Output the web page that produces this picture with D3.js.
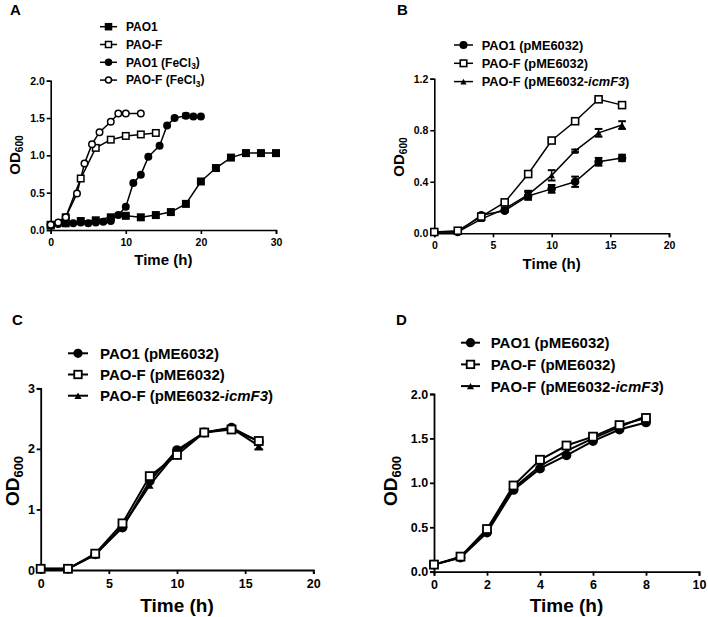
<!DOCTYPE html>
<html>
<head>
<meta charset="utf-8">
<script src="https://cdn.jsdelivr.net/npm/d3@7"></script>
<style>
  body { margin: 0; background: #fff; }
  svg { font-family: "Liberation Sans", Arial, sans-serif; font-weight: bold; }
</style>
</head>
<body>
<div id="chart"></div>
<script>
// ---- panel A ----
const aPao1T = [0, 2, 4, 6, 8, 10, 12, 14, 16, 18, 20, 22, 24, 26, 28, 30];
const aPao1V = [0.06, 0.09, 0.12, 0.13, 0.17, 0.19, 0.17, 0.20, 0.24, 0.35, 0.65, 0.83, 0.97, 1.03, 1.03, 1.03];
const aPao1E = [0.02, 0, 0, 0, 0, 0, 0, 0, 0, 0, 0, 0, 0, 0.03, 0.03, 0];
const aPaoFT = [0, 2, 4, 6, 8, 10, 12, 14];
const aPaoFV = [0.07, 0.17, 0.69, 1.10, 1.21, 1.26, 1.28, 1.30];
const aPao1FeT = [0, 1, 2, 3, 4, 5, 6, 7, 8, 9, 10, 11, 12, 13, 14.5, 15.5, 16.5, 18, 19, 20];
const aPao1FeV = [0.07, 0.08, 0.09, 0.09, 0.10, 0.09, 0.10, 0.11, 0.12, 0.20, 0.31, 0.63, 0.74, 0.98, 1.13, 1.40, 1.50, 1.53, 1.52, 1.52];
const aPao1FeE = [0, 0, 0, 0, 0, 0, 0, 0, 0, 0, 0, 0, 0, 0, 0, 0, 0, 0.03, 0, 0];
const aPaoFFeT = [0, 1, 2, 3.5, 4.5, 5.5, 6.5, 8, 9, 10, 12];
const aPaoFFeV = [0.07, 0.10, 0.17, 0.49, 0.89, 1.15, 1.31, 1.45, 1.56, 1.56, 1.56];

// ---- panel B ----
const bTime = [0, 2, 4, 6, 8, 10, 12, 14, 16];
const bPao1V = [0.01, 0.01, 0.14, 0.175, 0.29, 0.345, 0.40, 0.555, 0.585];
const bPao1E = [0, 0, 0.01, 0.01, 0.03, 0.03, 0.04, 0.03, 0.025];
const bPaoFV = [0.01, 0.02, 0.13, 0.24, 0.46, 0.72, 0.87, 1.04, 0.995];
const bPaoFE = [0, 0, 0, 0.01, 0.01, 0.01, 0.01, 0.01, 0.01];
const bIcmV = [0.01, 0.01, 0.11, 0.19, 0.30, 0.45, 0.64, 0.78, 0.84];
const bIcmE = [0, 0, 0.01, 0.01, 0.03, 0.04, 0.01, 0.03, 0.03];

// ---- panel C ----
const cTime = [0, 2, 4, 6, 8, 10, 12, 14, 16];
const cPao1V = [0.02, 0.02, 0.26, 0.70, 1.47, 1.98, 2.27, 2.35, 2.12];
const cPaoFV = [0.02, 0.02, 0.27, 0.77, 1.55, 1.90, 2.27, 2.32, 2.13];
const cIcmV = [0.02, 0.02, 0.25, 0.72, 1.40, 1.95, 2.27, 2.34, 2.05];
const cIcmE = [0, 0, 0, 0, 0, 0, 0, 0, 0.06];

// ---- panel D ----
const dTime = [0, 1, 2, 3, 4, 5, 6, 7, 8];
const dPao1V = [0.08, 0.16, 0.44, 0.92, 1.16, 1.31, 1.47, 1.60, 1.68];
const dPaoFV = [0.08, 0.17, 0.48, 0.97, 1.26, 1.42, 1.52, 1.65, 1.73];
const dIcmV = [0.08, 0.16, 0.46, 0.94, 1.19, 1.36, 1.50, 1.63, 1.75];

// axis ticks
const aXTicks = [0, 10, 20, 30], aYTicks = [0, 0.5, 1.0, 1.5, 2.0];
const bXTicks = [0, 5, 10, 15, 20], bYTicks = [0, 0.4, 0.8, 1.2];
const cXTicks = [0, 5, 10, 15, 20], cYTicks = [0, 1, 2, 3];
const dXTicks = [0, 2, 4, 6, 8, 10], dYTicks = [0, 0.5, 1.0, 1.5, 2.0];

const W = 708, H = 617;
const svg = d3.select("#chart").append("svg")
    .attr("width", W).attr("height", H);

function zip(t, v, e) {
    return t.map((x, i) => ({t: x, v: v[i], e: e ? e[i] : 0}));
}

function drawMarker(g, shape, x, y, s, sw) {
    if (shape === "sqFill" || shape === "sqOpen") {
        g.append("rect")
            .attr("x", x - s / 2).attr("y", y - s / 2)
            .attr("width", s).attr("height", s)
            .attr("fill", shape === "sqFill" ? "#000" : "#fff")
            .attr("stroke", "#000").attr("stroke-width", sw);
    } else if (shape === "ciFill" || shape === "ciOpen") {
        g.append("circle")
            .attr("cx", x).attr("cy", y).attr("r", s / 2)
            .attr("fill", shape === "ciFill" ? "#000" : "#fff")
            .attr("stroke", "#000").attr("stroke-width", sw);
    } else {
        const h = s * 0.9;
        g.append("path")
            .attr("d", `M${x},${y - h / 2}L${x + s / 2},${y + h / 2}L${x - s / 2},${y + h / 2}Z`)
            .attr("fill", "#000");
    }
}

function drawPanel(p) {
    const x = d3.scaleLinear().domain(p.xDomain).range([p.x0, p.x1]);
    const y = d3.scaleLinear().domain(p.yDomain).range([p.y0, p.y1]);
    const g = svg.append("g");

    // letter
    g.append("text")
        .attr("x", p.letter[0]).attr("y", p.letter[1])
        .style("font-size", "15px")
        .text(p.name);

    // axes
    const xAxis = d3.axisBottom(x).tickValues(p.xTicks).tickSizeOuter(0).tickSize(4)
        .tickFormat(d3.format(p.xFmt));
    const yAxis = d3.axisLeft(y).tickValues(p.yTicks).tickSizeOuter(0).tickSize(4)
        .tickFormat(d3.format(p.yFmt));

    const gx = g.append("g").attr("transform", `translate(0,${p.y0})`).call(xAxis);
    const gy = g.append("g").attr("transform", `translate(${p.x0},0)`).call(yAxis);
    [gx, gy].forEach(a => {
        a.selectAll("path, line").attr("stroke", "#000").attr("stroke-width", p.axisW);
        a.selectAll("text").attr("fill", "#000")
            .style("font-size", p.tickFont + "px")
            .style("font-family", "Liberation Sans, Arial, sans-serif")
            .style("font-weight", "bold");
    });
    gx.selectAll("text").attr("dy", "0.85em");
    gy.selectAll("text").attr("dx", "0.1em");

    // axis titles
    g.append("text")
        .attr("x", (p.x0 + x(p.xDomain[1])) / 2)
        .attr("y", p.xTitleY)
        .attr("text-anchor", "middle")
        .style("font-size", p.titleFont + "px")
        .text("Time (h)");

    const yt = g.append("text")
        .attr("transform", `translate(${p.yTitleX},${p.yTitleY}) rotate(-90)`)
        .attr("text-anchor", "middle")
        .style("font-size", p.titleFont + "px");
    yt.append("tspan").text("OD");
    yt.append("tspan").attr("dy", "0.3em").style("font-size", (p.titleFont * 0.68) + "px").text("600");

    // series
    const line = d3.line().x(d => x(d.t)).y(d => y(d.v));
    p.series.forEach(s => {
        g.append("path")
            .datum(s.data)
            .attr("d", line)
            .attr("fill", "none")
            .attr("stroke", "#000")
            .attr("stroke-width", p.lineW);
    });
    p.series.forEach(s => {
        s.data.forEach(d => {
            if (d.e > 0) {
                const cw = p.marker * 0.55;
                const ya = y(d.v + d.e), yb = y(d.v - d.e);
                g.append("line").attr("x1", x(d.t)).attr("x2", x(d.t))
                    .attr("y1", ya).attr("y2", yb).attr("stroke", "#000").attr("stroke-width", 1.5);
                [ya, yb].forEach(yy => g.append("line")
                    .attr("x1", x(d.t) - cw).attr("x2", x(d.t) + cw)
                    .attr("y1", yy).attr("y2", yy)
                    .attr("stroke", "#000").attr("stroke-width", 2));
            }
            drawMarker(g, s.shape, x(d.t), y(d.v), s.shape.startsWith("tr") ? p.marker * 0.95 : p.marker, p.markerSW);
        });
    });

    // legend
    p.series.slice().sort((a, b) => a.order - b.order).forEach((s, i) => {
        const ly = p.legend.y + i * p.legend.dy;
        const lg = g.append("g");
        lg.append("line")
            .attr("x1", p.legend.x).attr("x2", p.legend.x + p.legend.len)
            .attr("y1", ly).attr("y2", ly)
            .attr("stroke", "#000").attr("stroke-width", p.lineW);
        drawMarker(lg, s.shape, p.legend.x + p.legend.len / 2, ly,
            s.shape.startsWith("tr") ? p.legend.marker * 0.95 : p.legend.marker, p.markerSW);
        const t = lg.append("text")
            .attr("x", p.legend.tx).attr("y", ly)
            .attr("dy", "0.36em")
            .style("font-size", p.legend.font + "px");
        s.label.forEach(part => {
            const sp = t.append("tspan").text(part.text);
            if (part.italic) sp.style("font-style", "italic");
            if (part.sub) {
                sp.attr("dy", "0.3em").style("font-size", (p.legend.font * 0.7) + "px");
            }
            if (part.after) sp.attr("dy", "-0.3em");
        });
    });
}

const lbl = {
    pao1: [{text: "PAO1"}],
    paoF: [{text: "PAO-F"}],
    pao1Fe: [{text: "PAO1 (FeCl"}, {text: "3", sub: true}, {text: ")", after: true}],
    paoFFe: [{text: "PAO-F (FeCl"}, {text: "3", sub: true}, {text: ")", after: true}],
    pao1P: [{text: "PAO1 (pME6032)"}],
    paoFP: [{text: "PAO-F (pME6032)"}],
    icm: [{text: "PAO-F (pME6032-"}, {text: "icmF3", italic: true}, {text: ")"}]
};

drawPanel({
    name: "A", letter: [10, 15],
    xDomain: [0, 30], yDomain: [0, 2], x0: 50.7, x1: 276, y0: 230, y1: 80.7,
    xTicks: aXTicks, yTicks: aYTicks, xFmt: "d", yFmt: ".1f",
    tickFont: 10.5, titleFont: 15, axisW: 1.6, lineW: 1.5, marker: 6.5, markerSW: 1.5,
    xTitleY: 265, yTitleX: 20, yTitleY: 155,
    legend: {x: 100, len: 17, tx: 126, y: 26.7, dy: 17.8, font: 12, marker: 6},
    series: [
        {shape: "sqFill", data: zip(aPao1T, aPao1V, aPao1E), label: lbl.pao1, order: 0},
        {shape: "ciFill", data: zip(aPao1FeT, aPao1FeV, aPao1FeE), label: lbl.pao1Fe, order: 2},
        {shape: "sqOpen", data: zip(aPaoFT, aPaoFV), label: lbl.paoF, order: 1},
        {shape: "ciOpen", data: zip(aPaoFFeT, aPaoFFeV), label: lbl.paoFFe, order: 3}
    ]
});

drawPanel({
    name: "B", letter: [397, 15],
    xDomain: [0, 20], yDomain: [0, 1.2], x0: 434.3, x1: 669, y0: 233.3, y1: 78.7,
    xTicks: bXTicks, yTicks: bYTicks, xFmt: "d", yFmt: ".1f",
    tickFont: 10.5, titleFont: 15, axisW: 1.6, lineW: 1.5, marker: 7, markerSW: 1.6,
    xTitleY: 269, yTitleX: 404, yTitleY: 157,
    legend: {x: 454, len: 19, tx: 481.7, y: 45, dy: 18.3, font: 12.8, marker: 6.5},
    series: [
        {shape: "ciFill", data: zip(bTime, bPao1V, bPao1E), label: lbl.pao1P, order: 0},
        {shape: "trFill", data: zip(bTime, bIcmV, bIcmE), label: lbl.icm, order: 2},
        {shape: "sqOpen", data: zip(bTime, bPaoFV, bPaoFE), label: lbl.paoFP, order: 1}
    ]
});

drawPanel({
    name: "C", letter: [12, 325],
    xDomain: [0, 20], yDomain: [0, 3], x0: 40.7, x1: 313.3, y0: 570, y1: 388.3,
    xTicks: cXTicks, yTicks: cYTicks, xFmt: "d", yFmt: "d",
    tickFont: 12.5, titleFont: 19, axisW: 1.8, lineW: 2, marker: 8, markerSW: 1.8,
    xTitleY: 612, yTitleX: 19, yTitleY: 481,
    legend: {x: 68, len: 20, tx: 100, y: 353.3, dy: 21.2, font: 15, marker: 7.5},
    series: [
        {shape: "ciFill", data: zip(cTime, cPao1V), label: lbl.pao1P, order: 0},
        {shape: "trFill", data: zip(cTime, cIcmV, cIcmE), label: lbl.icm, order: 2},
        {shape: "sqOpen", data: zip(cTime, cPaoFV), label: lbl.paoFP, order: 1}
    ]
});

drawPanel({
    name: "D", letter: [396, 325],
    xDomain: [0, 10], yDomain: [0, 2], x0: 434, x1: 699, y0: 571.7, y1: 394,
    xTicks: dXTicks, yTicks: dYTicks, xFmt: "d", yFmt: ".1f",
    tickFont: 12.5, titleFont: 19, axisW: 1.8, lineW: 2, marker: 8, markerSW: 1.8,
    xTitleY: 612, yTitleX: 397, yTitleY: 481,
    legend: {x: 461, len: 19, tx: 490.7, y: 342.7, dy: 21.7, font: 15, marker: 7.5},
    series: [
        {shape: "ciFill", data: zip(dTime, dPao1V), label: lbl.pao1P, order: 0},
        {shape: "trFill", data: zip(dTime, dIcmV), label: lbl.icm, order: 2},
        {shape: "sqOpen", data: zip(dTime, dPaoFV), label: lbl.paoFP, order: 1}
    ]
});
</script>
</body>
</html>
